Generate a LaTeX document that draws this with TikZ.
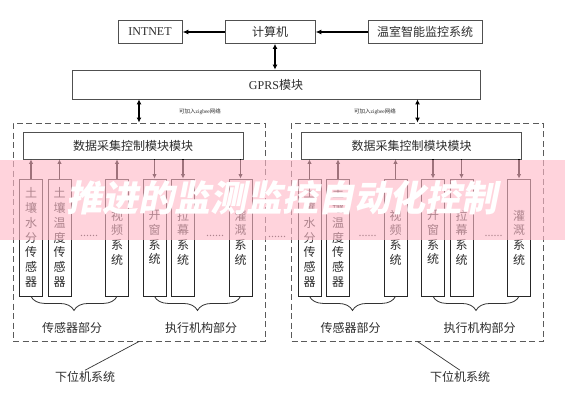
\documentclass[tikz,border=0pt]{standalone}
\usepackage{fontspec}
\setmainfont{Liberation Serif}
\newfontfamily\cjk{Noto Sans CJK SC}
\newfontfamily\wmfont[FakeSlant=0.2]{Noto Sans CJK SC}
\usetikzlibrary{arrows.meta,decorations.pathreplacing,calc}
\definecolor{linegray}{RGB}{80,80,80}
\definecolor{txtgray}{RGB}{45,45,45}
\definecolor{dashgray}{RGB}{90,90,90}
\definecolor{wmpink}{RGB}{255,185,200}

\tikzset{
  topbox/.style={draw=linegray, line width=0.8pt, inner sep=0pt, text=txtgray,
    font=\cjk\fontsize{12}{14}\selectfont},
  modbox/.style={draw=linegray, line width=0.8pt, inner sep=0pt, text=txtgray,
    minimum width=220, minimum height=27, font=\cjk\fontsize{12}{14}\selectfont},
  vbox/.style={draw=black!85, line width=0.9pt, inner sep=0pt, text=txtgray,
    minimum width=23, minimum height=117, text width=14pt, align=center,
    font=\cjk\fontsize{12}{14.7}\selectfont},
  dashbox/.style={draw=dashgray, line width=1pt, dash pattern=on 6pt off 3.5pt},
  bigarr/.style={draw=black, line width=1.7pt, -{Latex[length=6pt,width=5pt]}},
  bigdarr/.style={draw=black, line width=1.7pt, {Latex[length=5pt,width=5pt]}-{Latex[length=5pt,width=5pt]}},
  smallarr/.style={draw=black, line width=1.8pt, -{Latex[length=4.5pt,width=4.5pt]}},
  bracestyle/.style={draw=black!80, line width=0.8pt, decorate,
    decoration={brace, mirror, amplitude=14pt}},
  lbl/.style={text=txtgray, font=\cjk\fontsize{12}{14}\selectfont, inner sep=1pt},
  tiny/.style={text=txtgray, font=\cjk\fontsize{5.5}{6}\selectfont, inner sep=0pt},
  dotsnode/.style={text=txtgray, font=\fontsize{12}{12}\selectfont, inner sep=0pt},
}

\newcommand\lowsys[4]{%
\begin{scope}[xshift=#2]
  \node[dashbox, minimum width=252, minimum height=218] (#1-frame) at (139,232) {};
  \node[modbox] (#1-mod) at (133,145.5) {数据采集控制模块模块};
  \node[vbox] (#1-s1) at (31,237.5) {土\\壤\\水\\分\\传\\感\\器};
  \node[vbox] (#1-s2) at (59.5,237.5) {土\\壤\\温\\度\\传\\感\\器};
  \node[vbox] (#1-s3) at (117,237.5) {视\\频\\系\\统};
  \node[vbox] (#1-s4) at (154.5,237.5) {开\\窗\\系\\统};
  \node[vbox] (#1-s5) at (183,237.5) {拉\\幕\\系\\统};
  \node[vbox] (#1-s6) at (240.5,237.5) {灌\\溉\\系\\统};
  \node[dotsnode] (#1-d1) at (89,236) {......};
  \node[dotsnode] (#1-d2) at (215,236) {......};
  \foreach \i in {1,2,3}{
    \draw[smallarr] (#1-s\i.north) -- (#1-s\i.north |- #1-mod.south);}
  \foreach \i in {4,5,6}{
    \draw[smallarr] (#1-s\i.north |- #1-mod.south) -- (#1-s\i.north);}
  \draw[bracestyle] (#1-s1.south) -- (#1-s3.south);
  \draw[bracestyle] (#1-s4.south) -- (#1-s6.south);
  \node[lbl] (#1-sens) at (72,328) {传感器部分};
  \node[lbl] (#1-act) at (201,328) {执行机构部分};
  \node[tiny] (#1-zig) at (#3,112) {可加入{\rmfamily zigbee}网络};
  \node[lbl] (#1-low) at (#4,377) {下位机系统};
  \draw[draw=black!80, line width=0.7pt] (#1-frame.south) -- (#1-low.north);
\end{scope}}

\begin{document}
\begin{tikzpicture}[x=1pt,y=-1pt]
  \useasboundingbox (0,0) rectangle (565,400);
  \fill[white] (0,0) rectangle (565,400);

  % top row
  \node[topbox, minimum width=64, minimum height=23, font=\fontsize{12}{14}\selectfont] (inet) at (150,32) {INTNET};
  \node[topbox, minimum width=90, minimum height=23] (pc) at (270,32) {计算机};
  \node[topbox, minimum width=114, minimum height=23] (gh) at (425,32) {温室智能监控系统};
  \node[topbox, minimum width=408, minimum height=29] (gprs) at (276,84.5) {{\rmfamily GPRS}模块};

  \draw[bigarr] (pc) -- (inet);
  \draw[bigarr] (gh) -- (pc);
  \draw[bigdarr] ([xshift=5]pc.south) -- ([xshift=5]pc.south |- gprs.north);

  \lowsys{L}{0}{200}{85}
  \lowsys{R}{278.5}{96.5}{181.5}

  \draw[bigdarr] (gprs.south -| L-frame.north) -- (L-frame.north);
  \draw[bigdarr] (gprs.south -| R-frame.north) -- (R-frame.north);

  \node[dotsnode] (mid-dots) at (277,237) {......};

  % watermark band
  \fill[wmpink, fill opacity=0.62] (0,160) rectangle (565,240);
  \node[text=white, font=\wmfont\bfseries\fontsize{36}{36}\selectfont, inner sep=0pt] (wm) at (282,198) {推进的监测监控自动化控制};
\end{tikzpicture}
\end{document}
